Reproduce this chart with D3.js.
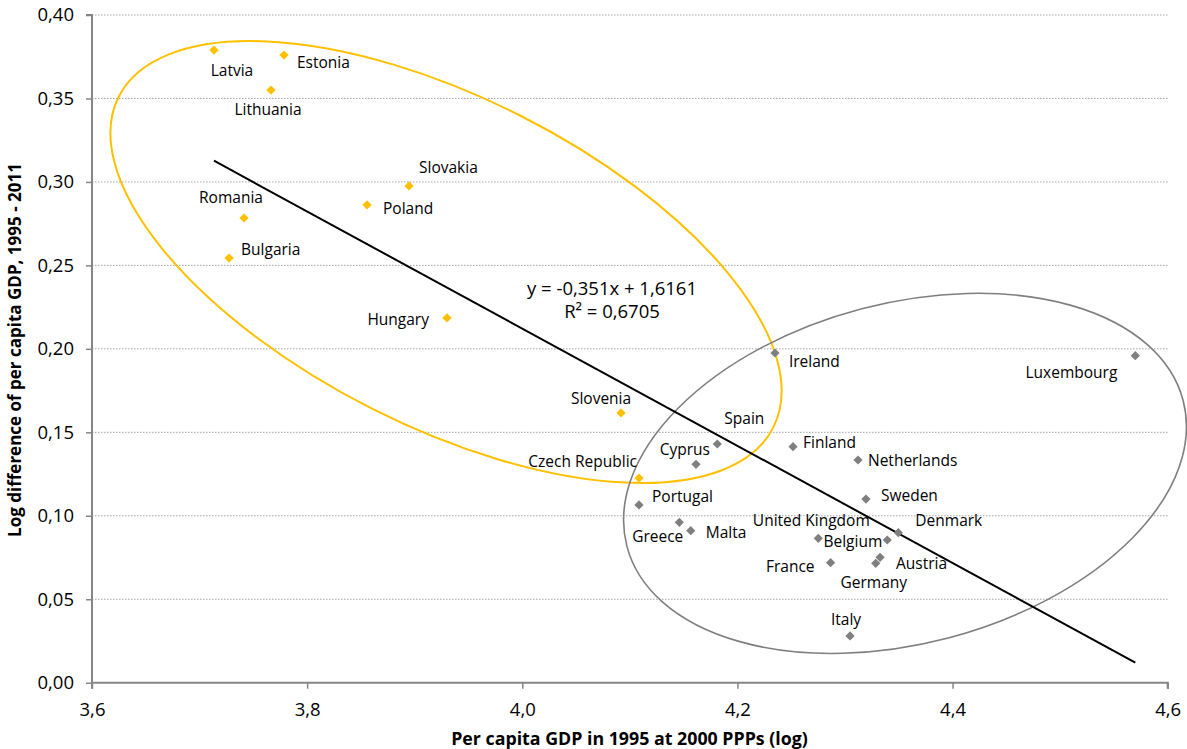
<!DOCTYPE html>
<html><head><meta charset="utf-8">
<script src="https://cdn.jsdelivr.net/npm/d3@7"></script>
<style>
body{margin:0;background:#fff}
text{font-family:"Open Sans",sans-serif;fill:#000}
</style>
</head><body>
<svg id="chart" width="1187" height="749"></svg>
<script>
// ---- data ----
const countries = ["Latvia","Estonia","Lithuania","Slovakia","Poland","Romania","Bulgaria","Hungary","Slovenia","Czech Republic",
  "Ireland","Luxembourg","Finland","Spain","Cyprus","Netherlands","Sweden","Portugal","Greece","Malta",
  "United Kingdom","Belgium","Denmark","France","Austria","Germany","Italy"];
const gdp1995Log = [3.7134,3.7785,3.7664,3.8947,3.8557,3.7413,3.7274,3.9300,4.0918,4.1085,
  4.2349,4.5699,4.2517,4.1813,4.1615,4.3121,4.3195,4.1085,4.1460,4.1566,
  4.2752,4.3393,4.3496,4.2866,4.3326,4.3286,4.3047];
const growthLogDiff = [0.379,0.376,0.355,0.2976,0.2862,0.2784,0.2544,0.2185,0.1616,0.1226,
  0.1975,0.1959,0.1414,0.1430,0.1308,0.1334,0.1100,0.1065,0.0961,0.0911,
  0.0865,0.0855,0.0899,0.0719,0.0751,0.0715,0.0280];
const groupOf = ["new","new","new","new","new","new","new","new","new","new",
  "old","old","old","old","old","old","old","old","old","old",
  "old","old","old","old","old","old","old"];
const xTicks = [3.6,3.8,4.0,4.2,4.4,4.6];
const yTicks = [0,0.05,0.10,0.15,0.20,0.25,0.30,0.35,0.40];
const trendSlope = -0.351, trendIntercept = 1.6161, rSquared = 0.6705;

// ---- layout / style ----
const W = 1187, H = 749;
const plotL = 92, plotR = 1167.7, plotT = 15, plotB = 682.7;
const colors = {new:"#FFC000", old:"#7F7F7F"};
const axisColor = "#868686";
// label placement: [dx, dy, anchor]
const labelPos = {
  "Latvia":[18,26,"middle"],"Estonia":[13,13,"start"],"Lithuania":[-3,25,"middle"],
  "Slovakia":[10,-13,"start"],"Poland":[16,9,"start"],"Romania":[-13,-15,"middle"],
  "Bulgaria":[12,-3,"start"],"Hungary":[-18,7,"end"],"Slovenia":[-20,-9,"middle"],
  "Czech Republic":[-2,-11,"end"],"Ireland":[14,14,"start"],"Luxembourg":[-18,22,"end"],
  "Finland":[10,1,"start"],"Spain":[7,-20,"start"],"Cyprus":[14,-9,"end"],
  "Netherlands":[10,6,"start"],"Sweden":[15,2,"start"],"Portugal":[13,-3,"start"],
  "Greece":[4,20,"end"],"Malta":[15,7,"start"],"United Kingdom":[-7,-12,"middle"],
  "Belgium":[-5,7,"end"],"Denmark":[17,-7,"start"],"France":[-16,9,"end"],
  "Austria":[16,12,"start"],"Germany":[-2,25,"middle"],"Italy":[-4,-11,"middle"]
};

const svg = d3.select("#chart");
const x = d3.scaleLinear().domain([3.6,4.6]).range([plotL,plotR]);
const y = d3.scaleLinear().domain([0,0.40]).range([plotB,plotT]);
const fmt = d => d3.format(".1f")(d).replace(".",",");
const fmtY = d => d3.format(".2f")(d).replace(".",",");

// gridlines
svg.append("g").selectAll("line").data(yTicks.filter(d=>d>0)).join("line")
  .attr("x1",plotL).attr("x2",plotR).attr("y1",d=>y(d)).attr("y2",d=>y(d))
  .attr("stroke","#a5a5a5").attr("stroke-width",1).attr("stroke-dasharray","1.5,1.5");

// axes
const yAxis = d3.axisLeft(y).tickValues(yTicks).tickFormat(fmtY).tickSize(6).tickPadding(12);
const gy = svg.append("g").attr("transform",`translate(${plotL},0)`).call(yAxis);
const xAxis = d3.axisBottom(x).tickValues(xTicks).tickFormat(fmt).tickSize(6).tickPadding(14);
const gx = svg.append("g").attr("transform",`translate(0,${plotB})`).call(xAxis);
[gx,gy].forEach(g=>{
  g.select(".domain").attr("stroke",axisColor).attr("stroke-width",2);
  g.selectAll(".tick line").attr("stroke",axisColor).attr("stroke-width",1.5);
  g.selectAll(".tick text").attr("fill","#000").style("font-family","'Open Sans',sans-serif").style("font-size","18.5px");
});
gy.select(".domain").attr("d",`M-6,${plotT}H0V${plotB}`);
gx.select(".domain").attr("d",`M${plotL},6V0H${plotR}V6`);

// ellipses (annotation)
const ellipses = [
  {cx:3.9291, cy:0.2520, rx:366.7, ry:164.2, rot:26.8, color:colors.new, w:2},
  {cx:4.3558, cy:0.1254, rx:287.5, ry:170.2, rot:-14.7, color:colors.old, w:1.6}
];
svg.append("g").selectAll("ellipse").data(ellipses).join("ellipse")
  .attr("transform",d=>`translate(${x(d.cx)},${y(d.cy)}) rotate(${d.rot})`)
  .attr("rx",d=>d.rx).attr("ry",d=>d.ry)
  .attr("fill","none").attr("stroke",d=>d.color).attr("stroke-width",d=>d.w);

// trend line
const xMin = d3.min(gdp1995Log), xMax = d3.max(gdp1995Log);
svg.append("line")
  .attr("x1",x(xMin)).attr("y1",y(trendSlope*xMin+trendIntercept))
  .attr("x2",x(xMax)).attr("y2",y(trendSlope*xMax+trendIntercept))
  .attr("stroke","#000").attr("stroke-width",2);

// points
const pts = countries.map((c,i)=>({name:c,gx:gdp1995Log[i],gy:growthLogDiff[i],grp:groupOf[i]}));
const diamond = "M0,-4.6L4.6,0L0,4.6L-4.6,0Z";
svg.append("g").selectAll("path").data(pts).join("path")
  .attr("d",diamond).attr("transform",d=>`translate(${x(d.gx)},${y(d.gy)})`)
  .attr("fill",d=>colors[d.grp]);

// labels
svg.append("g").selectAll("text").data(pts).join("text")
  .attr("x",d=>x(d.gx)+labelPos[d.name][0])
  .attr("y",d=>y(d.gy)+labelPos[d.name][1])
  .attr("text-anchor",d=>labelPos[d.name][2])
  .style("font-size","15.5px")
  .text(d=>d.name);

// equation
const eqX = 612;
svg.append("text").attr("x",eqX).attr("y",295).attr("text-anchor","middle").style("font-size","18.5px")
  .text(`y = ${String(trendSlope).replace(".",",")}x + ${String(trendIntercept).replace(".",",")}`);
svg.append("text").attr("x",eqX).attr("y",318).attr("text-anchor","middle").style("font-size","18.5px")
  .text(`R² = ${String(rSquared).replace(".",",")}`);

// axis titles
svg.append("text").attr("x",(448+811)/2).attr("y",745).attr("text-anchor","middle")
  .style("font-size","17.8px").style("font-weight","bold")
  .text("Per capita GDP in 1995 at 2000 PPPs (log)");
svg.append("text").attr("transform","translate(21,350) rotate(-90)").attr("text-anchor","middle")
  .style("font-size","17px").style("font-weight","bold")
  .text("Log difference of per capita GDP, 1995 - 2011");
</script>
</body></html>
